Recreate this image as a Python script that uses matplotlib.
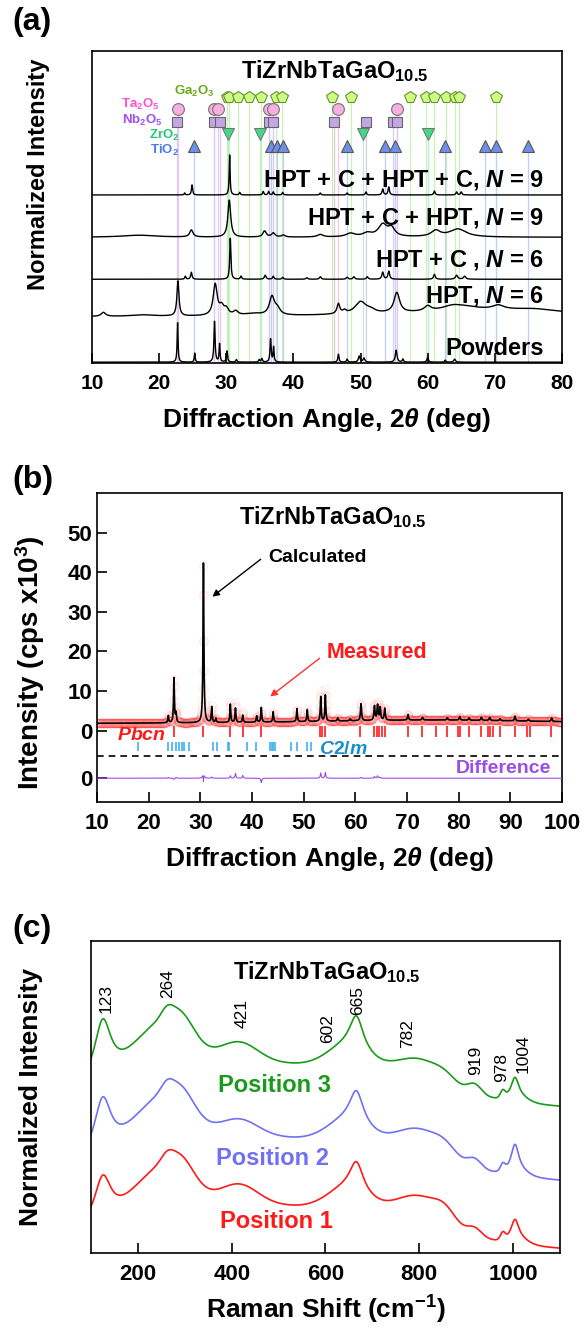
import numpy as np
import matplotlib
matplotlib.use("Agg")
import matplotlib.pyplot as plt

plt.rcParams.update({
    "font.family": ["Liberation Sans", "DejaVu Sans"],
    "font.weight": "bold",
    "axes.labelweight": "bold",
    "mathtext.fontset": "custom",
    "mathtext.rm": "Liberation Sans:bold",
    "mathtext.it": "Liberation Sans:italic:bold",
    "mathtext.bf": "Liberation Sans:bold",
    "mathtext.default": "regular",
    "axes.linewidth": 1.2,
})


def peaks(x, pos, height, width, shape=None):
    # sum of lines: 'l' Lorentzian (width = HWHM), 'g' Gaussian (width = sigma)
    y = np.zeros_like(x)
    if shape is None:
        shape = ["l"] * len(pos)
    for p, h, w, s in zip(pos, height, width, shape):
        if s == "g":
            y += h * np.exp(-0.5 * ((x - p) / w) ** 2)
        else:
            y += h / (1 + ((x - p) / w) ** 2)
    return y


# ---------------- (a) XRD patterns, stacked ----------------
powder_base = 0.8
powder_pos = [22.75, 25.3, 28.25, 29.0, 30.1, 31.5, 34.9, 35.3, 36.6, 37.05, 46.7, 48.0, 49.8, 50.5, 55.3, 56.3, 60.0, 62.6, 64.0]
powder_h = [40, 9, 41, 18, 11, 2.5, 2.5, 3.5, 23, 15, 8, 3, 6, 4, 12, 3, 5, 2, 3]
powder_w = [0.08, 0.08, 0.1, 0.08, 0.1, 0.1, 0.1, 0.1, 0.1, 0.08, 0.1, 0.1, 0.15, 0.15, 0.15, 0.1, 0.12, 0.1, 0.15]

hpt6_base = 46
hpt6_pos = [11.7, 17.5, 22.8, 28.35, 29.3, 30.0, 31.4, 34.0, 36.8, 37.6, 46.7, 47.6, 50.0, 51.5, 55.4, 60.0, 63.8, 66.0, 70.5, 76.0, 70.0]
hpt6_h = [4, 1.5, 35, 31, 8, 6, 4, 2, 18, 6, 10, 3, 12, 3, 20, 5, 5, 2, 4, 2, 7]
hpt6_w = [0.4, 2, 0.18, 0.35, 0.4, 0.4, 0.4, 1.5, 0.45, 0.5, 0.25, 0.3, 1.0, 0.8, 0.5, 0.6, 2.0, 2, 1.0, 3, 15]

hptc6_base = 83.7
hptc6_pos = [23.9, 24.8, 30.6, 32.2, 35.8, 37.0, 38.4, 42.0, 44.0, 48.0, 49.0, 51.0, 53.3, 54.2, 61.0, 64.3, 65.5]
hptc6_h = [3, 7, 41, 3, 4, 3, 2, 1.5, 2.5, 2, 2.5, 2.5, 7, 8, 5, 4, 3]
hptc6_w = [0.1, 0.12, 0.1, 0.12, 0.15, 0.12, 0.12, 0.15, 0.15, 0.15, 0.15, 0.15, 0.15, 0.15, 0.15, 0.2, 0.2]

hpchp9_base = 125.7
hpchp9_pos = [17.0, 24.8, 30.45, 35.7, 37.0, 38.5, 44.0, 48.5, 51.0, 53.3, 54.6, 61.2, 64.5]
hpchp9_h = [2, 7, 37, 6, 4, 2, 2.5, 3.5, 3.5, 12, 8, 6, 8]
hpchp9_w = [3, 0.3, 0.25, 0.3, 0.3, 0.3, 0.5, 0.8, 0.8, 0.8, 0.6, 0.8, 1.5]

hpchpc9_base = 168
hpchpc9_pos = [23.8, 24.9, 30.5, 32.0, 35.5, 36.3, 37.0, 38.4, 44.0, 48.0, 50.8, 53.3, 54.2, 61.0, 64.3, 65.0]
hpchpc9_h = [2, 10, 40, 2.5, 3.5, 3.5, 3, 2.5, 2, 2, 3, 6, 8, 4, 3, 3]
hpchpc9_w = [0.08, 0.1, 0.08, 0.1, 0.1, 0.1, 0.1, 0.1, 0.1, 0.1, 0.1, 0.12, 0.12, 0.12, 0.12, 0.12]

# reference peak positions (deg) for each phase
ga2o3_pos = [30.07, 30.4, 31.7, 33.45, 35.1, 37.4, 38.3, 45.7, 48.6, 57.4, 59.8, 60.9, 62.7, 64.1, 64.7, 70.2]
ta2o5_pos = [22.8, 28.2, 28.8, 36.4, 37.0, 46.6, 55.4]
nb2o5_pos = [22.6, 28.1, 29.0, 36.3, 37.0, 46.0, 50.8, 54.9, 55.4]
zro2_pos = [30.2, 35.0, 50.3, 60.0]
tio2_pos = [25.2, 36.7, 37.6, 38.5, 48.0, 53.7, 55.1, 62.6, 68.6, 70.2, 75.0]

# ---------------- (b) Rietveld refinement ----------------
bg_level = 1.7
bg_pos = [75]
bg_h = [1.0]
bg_w = [30]
calc_pos = [23.8, 24.9, 25.3, 30.6, 32.2, 33.0, 35.8, 36.8, 38.2, 40.9, 41.8, 44.1, 48.7, 50.7, 53.3, 54.2, 56.6, 59.0,
            61.1, 63.7, 64.3, 64.8, 65.7, 70.2, 73.0, 77.8, 80.2, 82.0, 84.4, 86.0, 88.0, 90.9, 93.5, 98.0]
calc_h = [1.8, 11.3, 2.3, 40.3, 3.9, 1.0, 4.6, 3.6, 1.8, 1.6, 3.7, 2.6, 3.3, 3.0, 6.2, 6.6, 0.8, 0.5,
          4.3, 3.6, 3.8, 3.2, 3.0, 1.4, 0.7, 0.6, 0.9, 0.6, 0.8, 0.8, 0.5, 1.2, 0.5, 0.9]
meas_h = [2.0, 11.0, 2.5, 39.5, 4.2, 1.0, 5.2, 4.8, 2.5, 1.6, 2.6, 2.6, 3.3, 3.0, 7.5, 8.0, 0.8, 0.5,
          4.5, 4.0, 4.4, 3.4, 3.0, 1.4, 0.7, 0.6, 0.9, 0.6, 0.8, 0.8, 0.5, 1.2, 0.5, 0.9]
calc_w = [0.1] * 16 + [0.12] * 18
meas_w = [0.1, 0.1, 0.1, 0.105] + [0.1] * 12 + [0.12] * 18
diff_offset = -12
pbcn_pos = [24.9, 30.6, 35.7, 38.2, 41.8, 53.1, 53.6, 54.1, 61.0, 63.6, 64.1, 64.6, 65.1, 65.7, 70.2, 73.0, 75.6,
            77.8, 79.9, 80.2, 82.0, 84.4, 85.7, 86.1, 86.7, 88.0, 90.9, 93.3, 93.8, 97.9]
c2m_pos = [18.0, 23.7, 24.6, 25.3, 25.9, 26.4, 26.8, 27.9, 32.4, 33.3, 35.3, 35.6, 39.0, 40.8, 43.5, 43.8, 44.1,
           44.4, 47.5, 48.8, 50.6, 51.5]

# ---------------- (c) Raman spectra ----------------
raman_pos = [450, 125, 250, 292, 262, 415, 666, 650, 800, 855, 918, 978, 1004, 1010]
raman_w = [300, 22, 60, 28, 12, 40, 18, 45, 55, 22, 15, 5, 10, 20]
raman_shape = ["g", "l", "g", "g", "g", "g", "l", "g", "g", "g", "g", "g", "l", "g"]
pos1_h = [48, 46, 45, 20, 6, 20, 30, 24, 32, 10, 8, 7, 20, 5]
pos2_h = [48, 56, 47, 20, 7, 17, 33, 24, 31, 7, 9, 7, 27, 5]
pos3_h = [48, 60, 47, 20, 7, 20, 34, 24, 27, 5, 10, 7, 20, 5]
raman_offsets = [0, 68, 142]
raman_marks = [123, 264, 421, 602, 665, 782, 919, 978, 1004]
raman_mark_x = [132, 264, 422, 605, 668, 776, 921, 975, 1021]
raman_mark_y = [240, 255, 225, 210, 238, 205, 178, 171, 180]

fig = plt.figure(figsize=(5.84, 13.3), dpi=100)
ax_a = fig.add_axes([0.1575, 0.7271, 0.8048, 0.2346])
ax_b = fig.add_axes([0.1661, 0.3970, 0.7962, 0.2323])
ax_c = fig.add_axes([0.1558, 0.0579, 0.8031, 0.2346])

# ===== (a) =====
x = np.arange(10, 80.001, 0.02)
patterns = [
    (powder_base, powder_pos, powder_h, powder_w),
    (hpt6_base, hpt6_pos, hpt6_h, hpt6_w),
    (hptc6_base, hptc6_pos, hptc6_h, hptc6_w),
    (hpchp9_base, hpchp9_pos, hpchp9_h, hpchp9_w),
    (hpchpc9_base, hpchpc9_pos, hpchpc9_h, hpchpc9_w),
]
for base, pos, h, w in patterns:
    ax_a.plot(x, base + peaks(x, pos, h, w), color="black", lw=1.0, zorder=3)

phases = [
    (ga2o3_pos, 266, "p", 8.5, "#ccff80", "#6b8e3a", "#c8f2b4"),
    (ta2o5_pos, 254, "o", 8.5, "#f7aee0", "#777777", "#f2c8ee"),
    (nb2o5_pos, 241, "s", 7.5, "#c4a6e6", "#666666", "#dccbf0"),
    (zro2_pos, 229, "v", 8.5, "#3ddc84", "#777777", "#b8f0c8"),
    (tio2_pos, 217, "^", 8.5, "#6f8fe8", "#555555", "#c0cff5"),
]
for pos, lev, mk, ms, fc, ec, lc in phases:
    ax_a.vlines(pos, 0, lev, colors=lc, lw=0.9, zorder=1)
    ax_a.plot(pos, [lev] * len(pos), mk, ms=ms, mfc=fc, mec=ec, mew=0.8, ls="none", zorder=4)

phase_text = [
    ("Ga$_2$O$_3$", 28.3, 268, "#6aaa1a"),
    ("Ta$_2$O$_5$", 20.0, 255, "#ff4fd0"),
    ("Nb$_2$O$_5$", 20.5, 239.5, "#a050f0"),
    ("ZrO$_2$", 23.0, 224.5, "#20c870"),
    ("TiO$_2$", 23.0, 209.5, "#4a7af0"),
]
for t, tx, ty, c in phase_text:
    ax_a.text(tx, ty, t, color=c, fontsize=9.5, ha="right", va="baseline", zorder=5)

sample_text = [
    ("HPT + C + HPT + C, $\\mathit{N}$ = 9", 176),
    ("HPT + C + HPT, $\\mathit{N}$ = 9", 138),
    ("HPT + C , $\\mathit{N}$ = 6", 96),
    ("HPT, $\\mathit{N}$ = 6", 60),
    ("Powders", 8),
]
for t, ty in sample_text:
    ax_a.text(77.3, ty, t, fontsize=17, ha="right", va="baseline", zorder=5)
ax_a.text(46.1, 285, "TiZrNbTaGaO$_{10.5}$", fontsize=17, ha="center", va="baseline")

ax_a.set_xlim(10, 80)
ax_a.set_ylim(0, 312)
ax_a.set_xticks(range(10, 81, 10))
ax_a.set_yticks([])
ax_a.tick_params(axis="x", direction="in", length=7, width=1.2, labelsize=15, pad=8)
ax_a.set_xlabel("Diffraction Angle, 2$\\mathit{\\theta}$ (deg)", fontsize=19, labelpad=9)
ax_a.set_ylabel("Normalized Intensity", fontsize=17)
ax_a.yaxis.set_label_coords(-0.089, 0.606)

# ===== (b) =====
xc = np.arange(10, 100.001, 0.01)
xm = np.arange(10, 100.001, 0.05)
calc_line = bg_level + peaks(xc, bg_pos, bg_h, bg_w) + peaks(xc, calc_pos, calc_h, calc_w)
calc_m = bg_level + peaks(xm, bg_pos, bg_h, bg_w) + peaks(xm, calc_pos, calc_h, calc_w)
meas = bg_level + peaks(xm, bg_pos, bg_h, bg_w) + peaks(xm, calc_pos, meas_h, meas_w)

ax_b.plot(xm, meas, "o", ms=6, mfc=(1, 0.75, 0.75, 0.02), mec=(1, 0.15, 0.15, 0.07), mew=0.8, ls="none", zorder=2)
ax_b.plot(xc, calc_line, color="black", lw=1.2, zorder=3)
ax_b.plot(xm, meas - calc_m + diff_offset, color="#9b4de8", lw=0.8, zorder=3)
ax_b.vlines(pbcn_pos, -1.6, 1.2, colors="#ff1a1a", lw=1.2, zorder=4)
ax_b.vlines(c2m_pos, -5.2, -2.8, colors="#3fb0f0", lw=1.2, zorder=4)
ax_b.axhline(-6.3, color="black", lw=1.2, ls=(0, (4, 3)))

ax_b.text(55.6, 52.2, "TiZrNbTaGaO$_{10.5}$", fontsize=17, ha="center", va="baseline")
ax_b.text(43.1, 42.7, "Calculated", fontsize=14, ha="left", va="baseline")
ax_b.annotate("", xy=(31.9, 33.4), xytext=(42.1, 43.7),
              arrowprops=dict(arrowstyle="-|>", color="black", lw=1.0, mutation_scale=10))
ax_b.text(54.4, 18.3, "Measured", fontsize=15.5, color="#ff1a1a", ha="left", va="baseline")
ax_b.annotate("", xy=(43.1, 8.2), xytext=(53.5, 18.7),
              arrowprops=dict(arrowstyle="-|>", color="#ff3030", lw=1.0, mutation_scale=10))
ax_b.text(13.8, -2.4, "$\\mathit{Pbcn}$", fontsize=14, color="#ff1a1a", ha="left", va="baseline")
ax_b.text(53.0, -6.0, "$\\mathit{C2/m}$", fontsize=14, color="#1a8fd0", ha="left", va="baseline")
ax_b.text(97.9, -10.8, "Difference", fontsize=14, color="#9b4de8", ha="right", va="baseline")

ax_b.set_xlim(10, 100)
ax_b.set_ylim(-18, 60)
ax_b.set_xticks(range(10, 101, 10))
ax_b.set_yticks([diff_offset, 0, 10, 20, 30, 40, 50])
ax_b.set_yticklabels(["0", "0", "10", "20", "30", "40", "50"])
ax_b.tick_params(direction="in", length=7, width=1.2, labelsize=16)
ax_b.tick_params(axis="x", pad=8)
ax_b.set_xlabel("Diffraction Angle, 2$\\mathit{\\theta}$ (deg)", fontsize=19, labelpad=8)
ax_b.set_ylabel("Intensity (cps x10$^3$)", fontsize=20)
ax_b.yaxis.set_label_coords(-0.107, 0.45)

# ===== (c) =====
xr = np.arange(100, 1100.1, 1.0)
raman_styles = [(pos1_h, "#ff1a1a"), (pos2_h, "#7070f5"), (pos3_h, "#1a9a1a")]
for (hs, col), off in zip(raman_styles, raman_offsets):
    ax_c.plot(xr, off + peaks(xr, raman_pos, hs, raman_w, raman_shape), color=col, lw=1.2)

ax_c.text(495, 24.7, "Position 1", fontsize=17, color="#ff1a1a", ha="center", va="baseline")
ax_c.text(486, 88, "Position 2", fontsize=17, color="#7070f5", ha="center", va="baseline")
ax_c.text(491, 161, "Position 3", fontsize=17, color="#1a9a1a", ha="center", va="baseline")
for lab, tx, ty in zip(raman_marks, raman_mark_x, raman_mark_y):
    ax_c.text(tx, ty, str(lab), rotation=90, fontsize=12.5, fontweight="normal", ha="center", va="bottom")
ax_c.text(602, 274, "TiZrNbTaGaO$_{10.5}$", fontsize=17, ha="center", va="baseline")

ax_c.set_xlim(100, 1100)
ax_c.set_ylim(0, 312)
ax_c.set_xticks(range(200, 1001, 200))
ax_c.set_yticks([])
ax_c.tick_params(axis="x", direction="in", length=7, width=1.2, labelsize=16, pad=8)
ax_c.set_xlabel("Raman Shift (cm$^{-1}$)", fontsize=19, labelpad=6)
ax_c.set_ylabel("Normalized Intensity", fontsize=19)
ax_c.yaxis.set_label_coords(-0.103, 0.5)

fig.text(12 / 584, 1 - 22 / 1330, "(a)", fontsize=23, ha="left", va="center")
fig.text(12 / 584, 1 - 480 / 1330, "(b)", fontsize=23, ha="left", va="center")
fig.text(12 / 584, 1 - 929 / 1330, "(c)", fontsize=23, ha="left", va="center")

fig.savefig("out.png", dpi=100)
